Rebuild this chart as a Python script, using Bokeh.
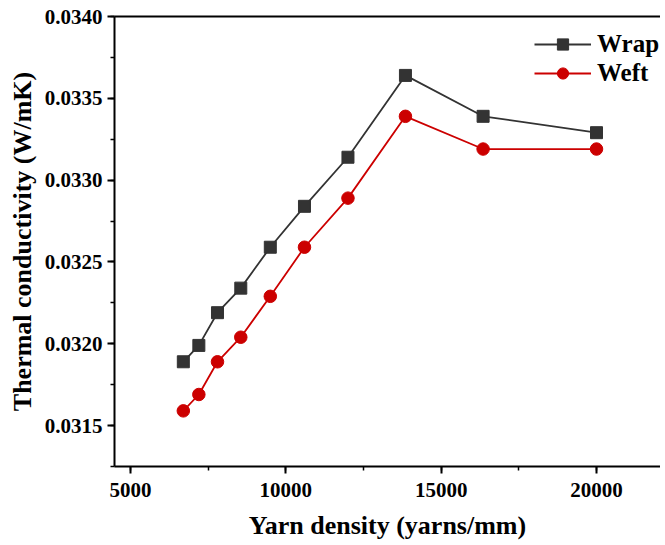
from bokeh.plotting import figure
from bokeh.models import (LinearAxis, SingleIntervalTicker, FixedTicker, NumeralTickFormatter,
                          Range1d, Legend, LegendItem)
from bokeh.embed import file_html
from bokeh.resources import INLINE

# data
density = [6700, 7200, 7800, 8550, 9500, 10600, 12000, 13850, 16350, 20000]
wrap = [0.03189, 0.03199, 0.03219, 0.03234, 0.03259, 0.03284, 0.03314, 0.03364, 0.03339, 0.03329]
weft = [0.03159, 0.03169, 0.03189, 0.03204, 0.03229, 0.03259, 0.03289, 0.03339, 0.03319, 0.03319]
series_names = ["Wrap", "Weft"]
x_title = "Yarn density (yarns/mm)"
y_title = "Thermal conductivity (W/mK)"

FONT = "Liberation Serif"
WRAP_C = "#333333"
WEFT_C = "#CC0000"

p = figure(width=660, height=542, output_backend="svg", toolbar_location=None,
           x_range=Range1d(4485, 22060), y_range=Range1d(0.03125, 0.0340),
           x_axis_type=None, y_axis_type=None,
           min_border_left=114, min_border_right=0, min_border_top=16, min_border_bottom=74)
p.outline_line_color = None
p.xgrid.visible = False
p.ygrid.visible = False
p.background_fill_color = "white"

def style(ax):
    ax.axis_line_color = "black"
    ax.axis_line_width = 2
    ax.major_tick_line_color = "black"
    ax.major_tick_line_width = 2
    ax.minor_tick_line_color = "black"
    ax.minor_tick_line_width = 1.5
    ax.major_tick_in = 0
    ax.major_tick_out = 7
    ax.minor_tick_in = 0
    ax.minor_tick_out = 4
    ax.major_label_text_font = FONT
    ax.major_label_text_font_style = "bold"
    ax.major_label_text_font_size = "21px"
    ax.major_label_text_color = "black"
    ax.axis_label_text_font = FONT
    ax.axis_label_text_font_style = "bold"
    ax.axis_label_text_font_size = "26px"
    ax.axis_label_text_color = "black"

xaxis = LinearAxis(ticker=SingleIntervalTicker(interval=5000, num_minor_ticks=2),
                   formatter=NumeralTickFormatter(format="0"), axis_label=x_title)
style(xaxis)
xaxis.major_label_standoff = 9
xaxis.axis_label_standoff = 11
p.add_layout(xaxis, "below")

yaxis = LinearAxis(ticker=SingleIntervalTicker(interval=0.0005, num_minor_ticks=2),
                   formatter=NumeralTickFormatter(format="0.0000"), axis_label=y_title)
style(yaxis)
yaxis.major_label_standoff = 5
yaxis.axis_label_standoff = 5
p.add_layout(yaxis, "left")

top = LinearAxis(ticker=FixedTicker(ticks=[]))
top.axis_line_color = "black"
top.axis_line_width = 2
top.major_tick_line_color = None
top.minor_tick_line_color = None
top.major_label_text_font_size = "0px"
p.add_layout(top, "above")

l1 = p.line(density, wrap, line_color=WRAP_C, line_width=1.8)
m1 = p.scatter(density, wrap, marker="square", size=12, fill_color=WRAP_C, line_color=WRAP_C)
l2 = p.line(density, weft, line_color=WEFT_C, line_width=1.8)
m2 = p.scatter(density, weft, marker="circle", size=12.5, fill_color=WEFT_C, line_color=WEFT_C)

legend = Legend(items=[LegendItem(label=series_names[0], renderers=[l1, m1]),
                       LegendItem(label=series_names[1], renderers=[l2, m2])],
                location=(420, 379))
legend.border_line_color = None
legend.background_fill_alpha = 0
legend.label_text_font = FONT
legend.label_text_font_style = "bold"
legend.label_text_font_size = "25px"
legend.label_text_color = "black"
legend.glyph_width = 57
legend.glyph_height = 28
legend.label_height = 28
legend.label_standoff = 6
legend.spacing = 1
legend.padding = 4
legend.margin = 0
p.add_layout(legend)

open("out.html", "w").write(file_html(p, INLINE))
